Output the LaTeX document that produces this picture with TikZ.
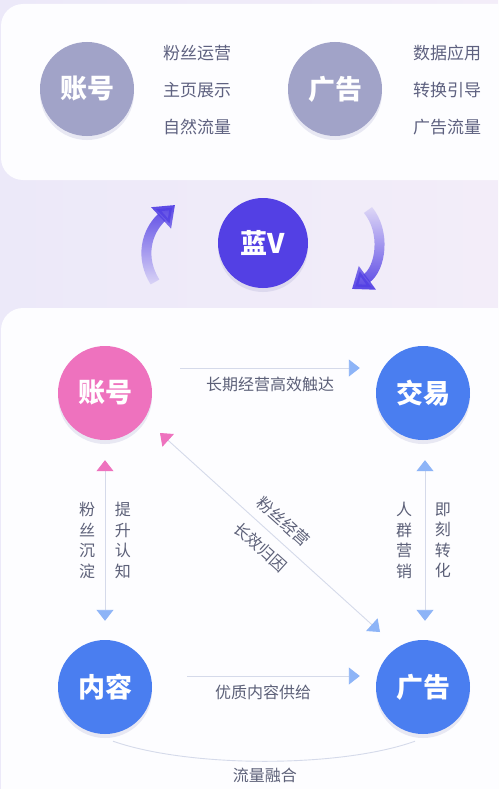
\documentclass[tikz,border=0pt]{standalone}
\usepackage{fontspec}
\setmainfont{Noto Sans CJK SC}
\usepackage{xcolor}
\usetikzlibrary{arrows.meta,shadows,fadings}
\definecolor{bgleft}{HTML}{ECE9F9}
\definecolor{bgright}{HTML}{F3EDF9}
\definecolor{cardwhite}{HTML}{FDFDFF}
\definecolor{graycirc}{HTML}{A1A3C8}
\definecolor{itemgray}{HTML}{5E6180}
\definecolor{lblgray}{HTML}{5C6078}
\definecolor{indigo}{HTML}{5340E4}
\definecolor{pinkc}{HTML}{EE72BE}
\definecolor{bluec}{HTML}{4A7EF0}
\definecolor{linegray}{HTML}{D5DAEA}
\definecolor{tipblue}{HTML}{8DB4F7}
\definecolor{shadowc}{HTML}{8A8CC0}
\tikzfading[name=fadebottom, top color=transparent!0, middle color=transparent!0, bottom color=transparent!90]
\tikzfading[name=fadetop, top color=transparent!90, middle color=transparent!0, bottom color=transparent!0]
\tikzset{
  bluehead/.tip={Triangle[length=11pt,width=17pt,color=tipblue]},
  pinkhead/.tip={Triangle[length=11pt,width=17pt,color=pinkc]}
}

\begin{document}
\begin{tikzpicture}[x=1pt,y=-1pt,
    circ/.style={circle, minimum size=94pt, inner sep=0pt, text=white,
      font=\fontsize{27}{27}\selectfont\bfseries,
      drop shadow={fill=shadowc, opacity=0.18, shadow xshift=0pt, shadow yshift=-4pt}},
    item/.style={text=itemgray, font=\fontsize{17}{17}\selectfont},
    lbl/.style={text=lblgray, font=\fontsize{16}{16}\selectfont},
    vlbl/.style={text=lblgray, align=center, font=\fontsize{16}{20.5}\selectfont},
    link/.style={draw=linegray, line width=0.9pt},
    turn/.style={indigo, line width=10pt, -{Triangle[length=19pt,width=28pt]}}]
    \useasboundingbox (0,0) rectangle (498,789);
    \clip (0,0) rectangle (498,789);
    % background and cards
    \fill [left color=bgleft, right color=bgright] (0,0) rectangle (498,789);
    \fill [cardwhite, rounded corners=22pt] (1,4) rectangle (540,180);
    \fill [cardwhite, rounded corners=22pt] (1,308) rectangle (540,830);
    % top card
    \node [circ, fill=graycirc] (zh) at (87, 89) {账号};
    \node [circ, fill=graycirc] (gga) at (335, 89) {广告};
    \foreach \t [count=\i] in {粉丝运营,主页展示,自然流量}{
            \node [item] (za\i) at (197, {16+37*\i}) {\t};
        }
    \foreach \t [count=\i] in {数据应用,转换引导,广告流量}{
            \node [item] (ga\i) at (447, {16+37*\i}) {\t};
        }
    % blue v and the two turning arrows
    \node [circ, fill=indigo, minimum size=90pt] (lanv) at (263, 243) {蓝V};
    \draw [turn, path fading=fadebottom]
        (155, 282) .. controls (140, 258) and (146, 232) .. (175, 205);
    \draw [turn, path fading=fadetop]
        (368, 210) .. controls (386, 232) and (381, 268) .. (352, 289);
    % bottom card
    \node [circ, fill=pinkc] (zh2) at (105, 393) {账号};
    \node [circ, fill=bluec] (jy) at (423, 393) {交易};
    \node [circ, fill=bluec] (nr) at (105, 687) {内容};
    \node [circ, fill=bluec] (gg) at (423, 687) {广告};
    \draw [link, -bluehead] ([shift={(28,-25)}]zh2.east) -- ([shift={(-16,-25)}]jy.west)
        node [midway, below=5pt, lbl] (l1) {长期经营高效触达};
    \draw [link, pinkhead-bluehead] ([shift={(0,20)}]zh2.south) -- ([shift={(0,-19)}]nr.north)
        node [midway, left=6pt, vlbl] (l2) {粉\\丝\\沉\\淀}
        node [midway, right=6pt, vlbl] (l3) {提\\升\\认\\知};
    \draw [link, bluehead-bluehead] ([shift={(2,20)}]jy.south) -- ([shift={(2,-19)}]gg.north)
        node [midway, left=9pt, vlbl] (l4) {人\\群\\营\\销}
        node [midway, right=6pt, vlbl] (l5) {即\\刻\\转\\化};
    \draw [link, pinkhead-bluehead] ([shift={(55,40)}]zh2.center) -- ([shift={(-43,-55)}]gg.center)
        node [pos=0.51, above=6pt, sloped, vlbl] (l6) {粉丝经营}
        node [pos=0.51, below=6pt, sloped, vlbl] (l7) {长效归因};
    \draw [link, -bluehead] ([shift={(35,-11)}]nr.east) -- ([shift={(-16,-11)}]gg.west)
        node [pos=0.44, below=5pt, lbl] (l8) {优质内容供给};
    \draw [link] ([shift={(8,7)}]nr.south) .. controls (190, 768) and (340, 768) .. ([shift={(-8,7)}]gg.south)
        node [midway, below=3pt, lbl] (l9) {流量融合};
\end{tikzpicture}
\end{document}
